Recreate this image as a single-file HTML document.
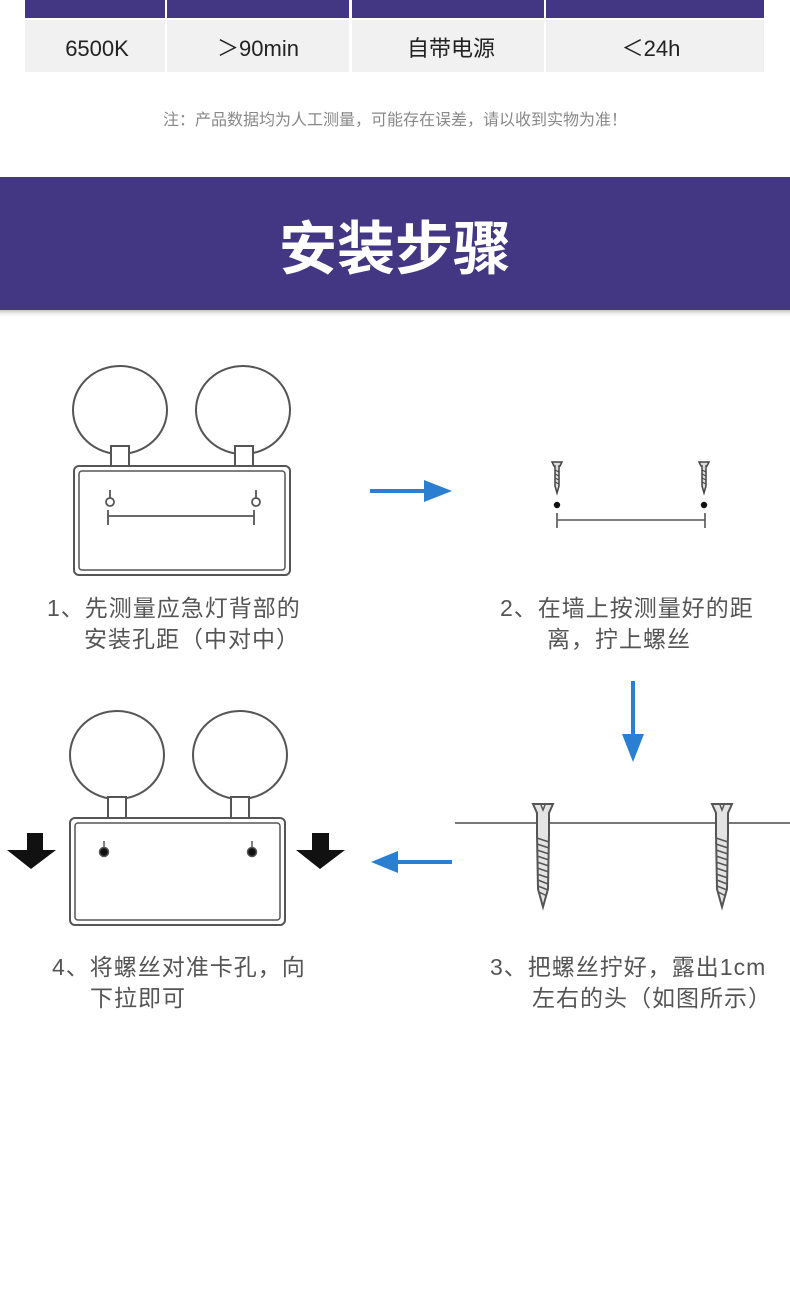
<!DOCTYPE html>
<html><head><meta charset="utf-8"><style>
html,body{margin:0;padding:0;background:#fff;}
svg{display:block;}
text{font-family:"Liberation Sans","Noto Sans CJK SC",sans-serif;}
</style></head><body>
<svg width="790" height="1300" viewBox="0 0 790 1300" xmlns="http://www.w3.org/2000/svg">
<defs>
<linearGradient id="sh" x1="0" y1="0" x2="0" y2="1"><stop offset="0" stop-color="#999" stop-opacity="0.6"/><stop offset="1" stop-color="#fff" stop-opacity="0"/></linearGradient>
<g id="screwSmall">
<path d="M-5,0 L5,0 L3,4 L2,4 L2,24 L0,31 L-2,24 L-2,4 L-3,4 Z" fill="#ddd" stroke="#444" stroke-width="1.5"/>
<path d="M-2,8 L2,10 M-2,12 L2,14 M-2,16 L2,18 M-2,20 L2,22" stroke="#444" stroke-width="1"/>
</g>
<g id="screwBig">
<path d="M-10,0 L10,0 L6,9 L6,30 L5,85 L0,103 L-5,85 L-6,30 L-6,9 Z" fill="#e4e4e4" stroke="#555" stroke-width="2"/>
<path d="M-6,34 L6,38 M-6,40 L6,44 M-6,46 L6,50 M-6,52 L6,56 M-6,58 L6,62 M-6,64 L6,68 M-6,70 L6,74 M-5,76 L5,80 M-5,82 L5,86 M-4,88 L4,92" stroke="#555" stroke-width="1.5"/>
<path d="M-2,1 L0,6 L2,1" fill="none" stroke="#555" stroke-width="1.5"/>
</g>
</defs>
<rect x="25" y="0" width="140" height="18" fill="#433683"/>
<rect x="167" y="0" width="182" height="18" fill="#433683"/>
<rect x="352" y="0" width="192" height="18" fill="#433683"/>
<rect x="546" y="0" width="218" height="18" fill="#433683"/>
<rect x="25" y="20" width="140" height="52" fill="#f1f1f1"/>
<rect x="167" y="20" width="182" height="52" fill="#f1f1f1"/>
<rect x="352" y="20" width="192" height="52" fill="#f1f1f1"/>
<rect x="546" y="20" width="218" height="52" fill="#f1f1f1"/>
<g font-size="22" fill="#222" text-anchor="middle">
<text x="97" y="56">6500K</text>
<text x="258" y="56">＞90min</text>
<text x="451" y="56">自带电源</text>
<text x="651" y="56">＜24h</text>
</g>
<text x="395" y="125" font-size="16" fill="#888" text-anchor="middle">注：产品数据均为人工测量，可能存在误差，请以收到实物为准！</text>
<rect x="0" y="310" width="790" height="8" fill="url(#sh)"/>
<rect x="0" y="177" width="790" height="133" fill="#433683"/>
<text x="395" y="269" font-size="58" font-weight="bold" fill="#fff" text-anchor="middle">安装步骤</text>
<g fill="#fff" stroke="#555" stroke-width="2">
<ellipse cx="120" cy="410" rx="47" ry="44"/>
<ellipse cx="243" cy="410" rx="47" ry="44"/>
<rect x="111" y="446" width="18" height="20"/>
<rect x="235" y="446" width="18" height="20"/>
<rect x="74" y="466" width="216" height="109" rx="5"/>
<rect x="79" y="471" width="206" height="99" rx="3" stroke-width="1.5"/>
</g>
<g fill="none" stroke="#555" stroke-width="1.8">
<circle cx="110" cy="502" r="4"/><path d="M110,498 V490"/>
<circle cx="256" cy="502" r="4"/><path d="M256,498 V490"/>
<path d="M108,516 H254 M108,510 V525 M254,510 V525"/>
</g>
<use href="#screwSmall" x="557" y="462"/>
<use href="#screwSmall" x="704" y="462"/>
<circle cx="557" cy="505" r="3.2" fill="#111"/>
<circle cx="704" cy="505" r="3.2" fill="#111"/>
<path d="M557,520 H705 M557,513 V528 M705,513 V528" stroke="#555" stroke-width="1.6" fill="none"/>
<g fill="#2b7fd0">
<rect x="370" y="489" width="58" height="4"/><path d="M424,480 L452,491 L424,502 Z"/>
<rect x="631" y="681" width="4" height="58"/><path d="M622,734 L633,762 L644,734 Z"/>
<rect x="395" y="860" width="57" height="4"/><path d="M398,851 L371,862 L398,873 Z"/>
</g>
<g font-size="23" fill="#555" letter-spacing="1">
<text x="47" y="616">1、先测量应急灯背部的</text>
<text x="84" y="647">安装孔距（中对中）</text>
<text x="500" y="616">2、在墙上按测量好的距</text>
<text x="547" y="647">离，拧上螺丝</text>
<text x="490" y="975">3、把螺丝拧好，露出1cm</text>
<text x="532" y="1006">左右的头（如图所示）</text>
<text x="52" y="975">4、将螺丝对准卡孔，向</text>
<text x="90" y="1006">下拉即可</text>
</g>
<line x1="455" y1="823" x2="790" y2="823" stroke="#777" stroke-width="2"/>
<use href="#screwBig" x="543" y="804"/>
<use href="#screwBig" x="722" y="804"/>
<g fill="#fff" stroke="#555" stroke-width="2">
<ellipse cx="117" cy="755" rx="47" ry="44"/>
<ellipse cx="240" cy="755" rx="47" ry="44"/>
<rect x="108" y="797" width="18" height="21"/>
<rect x="231" y="797" width="18" height="21"/>
<rect x="70" y="818" width="215" height="107" rx="5"/>
<rect x="75" y="823" width="205" height="97" rx="3" stroke-width="1.5"/>
</g>
<g fill="#111" stroke="#555" stroke-width="1.5">
<path d="M104,847 V841" /><circle cx="104" cy="852" r="4.5"/>
<path d="M252,847 V841" /><circle cx="252" cy="852" r="4.5"/>
</g>
<g fill="#111">
<rect x="27" y="833" width="16" height="18"/><path d="M7,850 L56,850 L31,869 Z"/>
<rect x="312" y="833" width="17" height="18"/><path d="M296,850 L345,850 L320,869 Z"/>
</g>
</svg>
</body></html>
